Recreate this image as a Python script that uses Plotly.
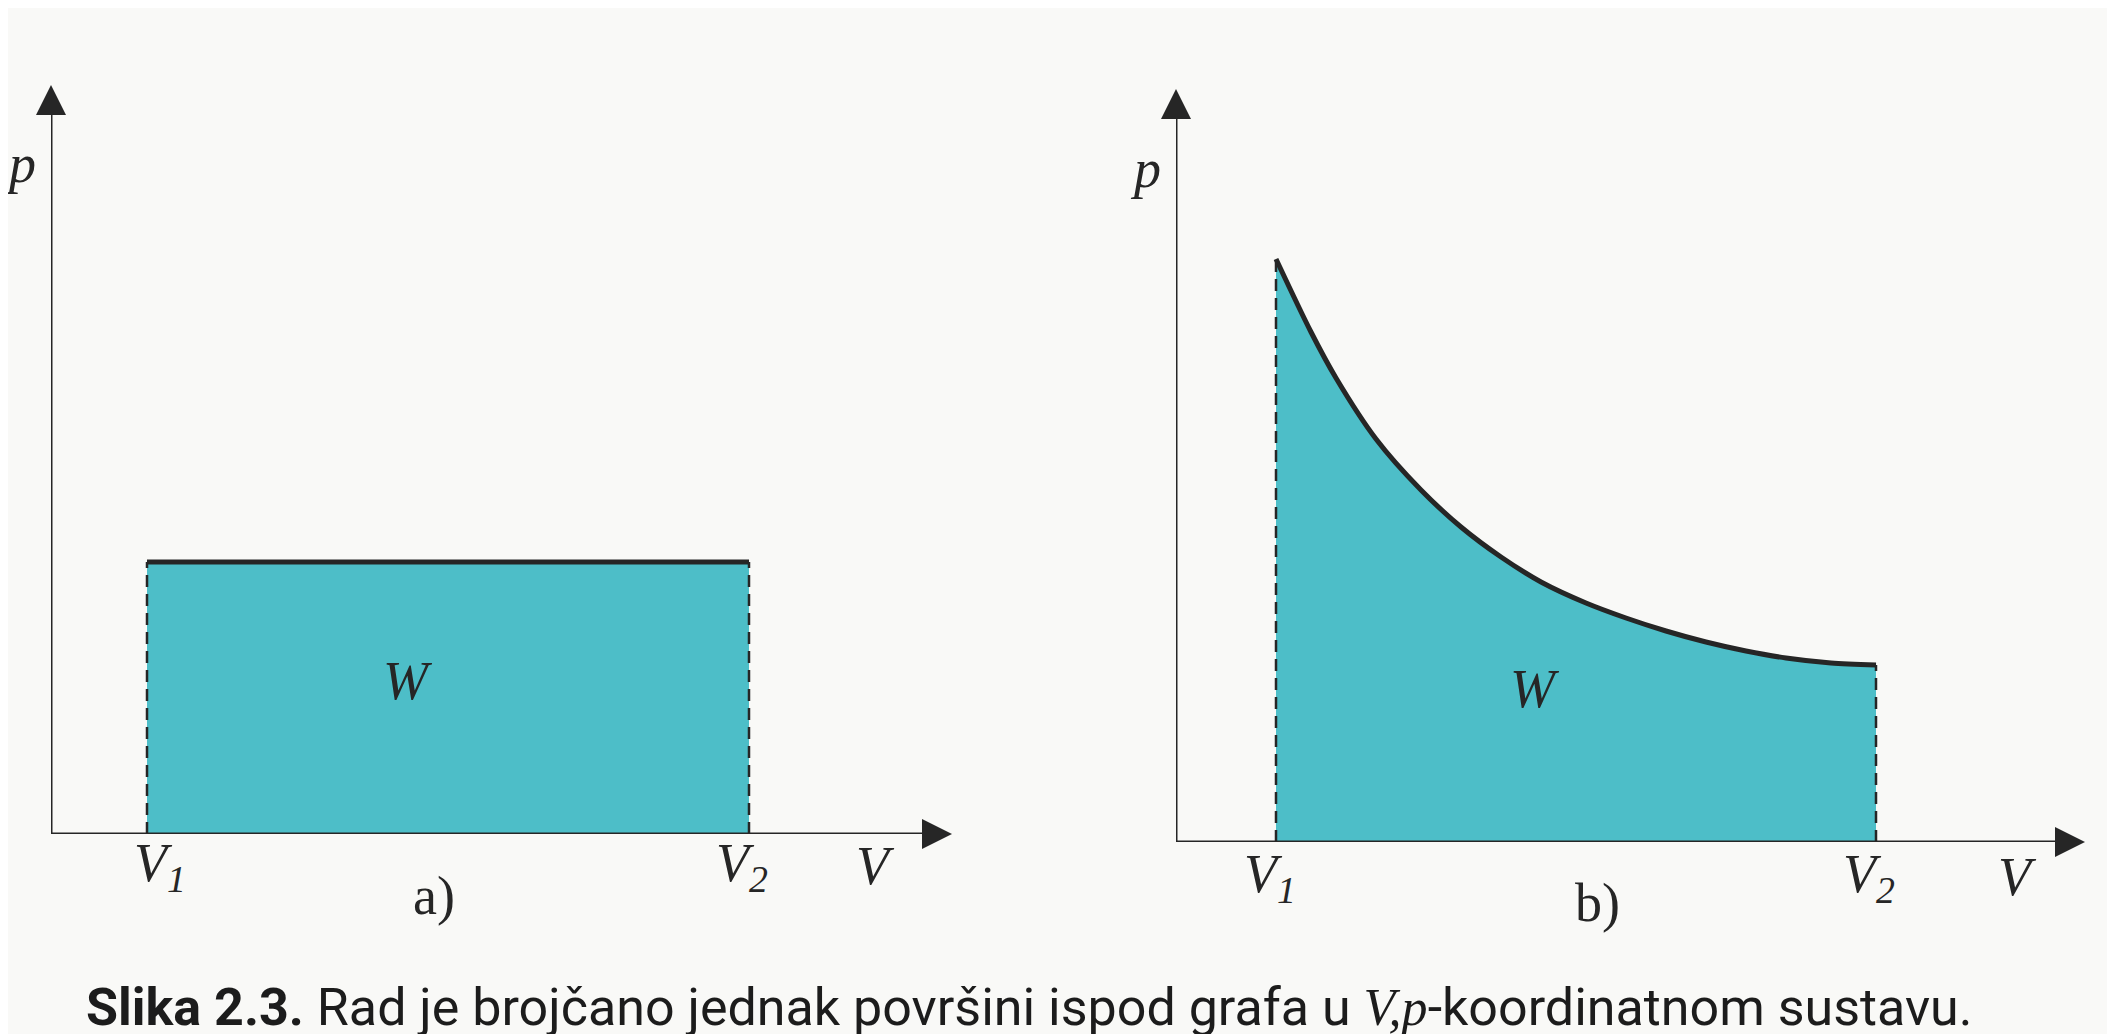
import plotly.graph_objects as go

# ---------------- data ----------------
# panel a) : constant pressure
a_V = [0.96, 6.98]          # V1, V2
a_p = [2.72, 2.72]          # p (constant)

# panel b) : decreasing pressure curve
b_V = [1.0, 1.35, 1.6, 2.0, 2.45, 2.85, 3.25, 3.65, 4.1, 4.5, 4.9, 5.3, 5.7, 6.1, 6.55, 7.0]
b_p = [5.83, 5.10, 4.64, 4.03, 3.52, 3.15, 2.85, 2.60, 2.39, 2.24, 2.11, 2.00, 1.91, 1.84, 1.79, 1.77]

axis_labels = {"p": "<i>p</i>", "V": "<i>V</i>", "V1": "<i>V<sub>1</sub></i>", "V2": "<i>V<sub>2</sub></i>"}
panel_tags = ["a)", "b)"]
area_label = "<i>W</i>"
caption_bold = "Slika 2.3."
caption_rest = " Rad je brojčano jednak površini ispod grafa u "

# ---------------- style ----------------
W, H = 2115, 1034
TEAL = "#4dbec8"
INK = "#262626"
BG = "#f9f9f7"
SERIF = "Liberation Serif, Times New Roman, serif"
SANS = "Roboto, Liberation Sans, Arial, sans-serif"
LBL = 54
DX = -8   # small horizontal nudge of italic labels

# axis geometry (pixels)
A = dict(x0=43, x1=944, y0=826, y1=77)
B = dict(x0=1168, x1=2077, y0=834, y1=81)
UNIT = 100.0  # pixels per data unit


def dom(g):
    return ([g["x0"] / W, g["x1"] / W], [1 - g["y0"] / H, 1 - g["y1"] / H])


fig = go.Figure()


def add_axes(g, xr, yr):
    xmax = (g["x1"] - g["x0"]) / UNIT
    ymax = (g["y0"] - g["y1"]) / UNIT
    head = 0.25  # arrowhead length in data units (line stops under the head)
    ln = dict(color=INK, width=3)
    fig.add_trace(go.Scatter(x=[-0.05, xmax - head], y=[0, 0], mode="lines", line=ln,
                             xaxis=xr, yaxis=yr, hoverinfo="skip", cliponaxis=False))
    fig.add_trace(go.Scatter(x=[0, 0], y=[0, ymax - head], mode="lines", line=ln,
                             xaxis=xr, yaxis=yr, hoverinfo="skip", cliponaxis=False))
    fig.add_trace(go.Scatter(x=[xmax, 0], y=[0, ymax], mode="markers",
                             marker=dict(symbol=["arrow-right", "arrow-up"], size=30, color=INK,
                                         line=dict(width=0)),
                             xaxis=xr, yaxis=yr, hoverinfo="skip", cliponaxis=False))


# ---- panel a ----
fig.add_trace(go.Scatter(x=a_V, y=a_p, mode="lines", fill="tozeroy", fillcolor=TEAL,
                         line=dict(color=INK, width=5), xaxis="x", yaxis="y", hoverinfo="skip"))
for v, pv in [(a_V[0], a_p[0]), (a_V[-1], a_p[-1])]:
    fig.add_trace(go.Scatter(x=[v, v], y=[0, pv], mode="lines",
                             line=dict(color=INK, width=2.5, dash="12px,7px"),
                             xaxis="x", yaxis="y", hoverinfo="skip"))
add_axes(A, "x", "y")

# ---- panel b ----
fig.add_trace(go.Scatter(x=b_V, y=b_p, mode="lines", fill="tozeroy", fillcolor=TEAL,
                         line=dict(color=INK, width=5, shape="spline", smoothing=0.8),
                         xaxis="x2", yaxis="y2", hoverinfo="skip"))
for v, pv in [(b_V[0], b_p[0]), (b_V[-1], b_p[-1])]:
    fig.add_trace(go.Scatter(x=[v, v], y=[0, pv], mode="lines",
                             line=dict(color=INK, width=2.5, dash="12px,7px"),
                             xaxis="x2", yaxis="y2", hoverinfo="skip"))
add_axes(B, "x2", "y2")

ann = []
for (g, xr, yr, V, P, py, vx, tag_x, tag_shift, Wx, Wy, V1dx, lblshift, tag) in [
    (A, "x", "y", a_V, a_p, 6.70, 8.32, 3.91, -62, 3.65, 1.53, 21, -32, panel_tags[0]),
    (B, "x2", "y2", b_V, b_p, 6.73, 8.49, 4.29, -61, 3.67, 1.53, 2, -35, panel_tags[1]),
]:
    common = dict(xref=xr, yref=yr, showarrow=False, font=dict(family=SERIF, size=LBL, color=INK))
    ann.append(dict(x=0, y=py, xshift=-23 + DX, text=axis_labels["p"], **common))
    ann.append(dict(x=V[0], y=0, xshift=V1dx + DX, yshift=lblshift, text=axis_labels["V1"], **common))
    ann.append(dict(x=V[-1], y=0, xshift=1 + DX, yshift=lblshift, text=axis_labels["V2"], **common))
    ann.append(dict(x=vx, y=0, xshift=DX, yshift=lblshift, text=axis_labels["V"], **common))
    ann.append(dict(x=Wx, y=Wy, xshift=DX, text=area_label, **common))
    ann.append(dict(x=tag_x, y=0, xshift=DX, yshift=tag_shift, text=tag, **common))

ann.append(dict(x=76 / W, y=1 - 999 / H, xref="paper", yref="paper", xanchor="left", yanchor="middle",
                showarrow=False, font=dict(family=SANS, size=52, color="#1c1c1c"),
                text=f"<b>{caption_bold}</b>{caption_rest}<span style='font-family:{SERIF}'><i>V,p</i></span>-koordinatnom sustavu."))

ax_common = dict(visible=False, showgrid=False, zeroline=False, fixedrange=True)
dxa, dya = dom(A)
dxb, dyb = dom(B)
fig.update_layout(
    width=W, height=H, margin=dict(l=0, r=0, t=0, b=0),
    paper_bgcolor=BG, plot_bgcolor="rgba(0,0,0,0)", showlegend=False,
    xaxis=dict(domain=dxa, range=[0, (A["x1"] - A["x0"]) / UNIT], anchor="y", **ax_common),
    yaxis=dict(domain=dya, range=[0, (A["y0"] - A["y1"]) / UNIT], anchor="x", **ax_common),
    xaxis2=dict(domain=dxb, range=[0, (B["x1"] - B["x0"]) / UNIT], anchor="y2", **ax_common),
    yaxis2=dict(domain=dyb, range=[0, (B["y0"] - B["y1"]) / UNIT], anchor="x2", **ax_common),
    annotations=ann,
)

fig.write_html("out.html")
